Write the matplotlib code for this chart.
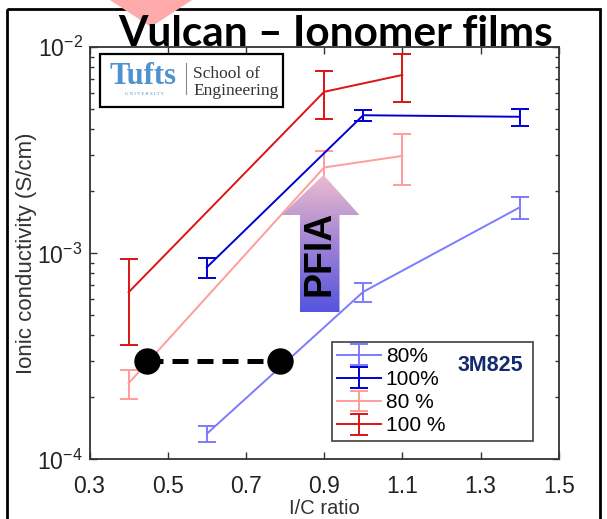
import numpy as np
import matplotlib
matplotlib.use("Agg")
import matplotlib.pyplot as plt
from matplotlib.patches import Polygon, Rectangle
from matplotlib.ticker import FixedLocator, FuncFormatter, LogLocator, NullFormatter

plt.rcParams['font.family'] = ['Liberation Sans', 'DejaVu Sans']
plt.rcParams['mathtext.fontset'] = 'custom'
plt.rcParams['mathtext.rm'] = 'Liberation Sans'
plt.rcParams['mathtext.it'] = 'Liberation Sans'
plt.rcParams['mathtext.default'] = 'regular'

# --- data: ionic conductivity (S/cm) vs I/C ratio ---
ic_3m = [0.6, 1.0, 1.4]
sig_3m_80 = [1.33e-4, 6.5e-4, 1.67e-3]
err_3m_80 = [0.12e-4, 0.7e-4, 0.21e-3]
sig_3m_100 = [8.55e-4, 4.68e-3, 4.6e-3]
err_3m_100 = [0.97e-4, 0.27e-3, 0.43e-3]

ic_pf = [0.4, 0.9, 1.1]
sig_pf_80 = [2.34e-4, 2.61e-3, 2.97e-3]
err_pf_80 = [0.37e-4, 0.54e-3, 0.82e-3]
sig_pf_100 = [6.47e-4, 6.08e-3, 7.34e-3]
err_pf_100 = [2.9e-4, 1.6e-3, 1.9e-3]

# equal-conductivity comparison markers
match_ic = [0.446, 0.787]
match_sig = [3.0e-4, 3.0e-4]

xticks = [0.3, 0.5, 0.7, 0.9, 1.1, 1.3, 1.5]
labels = ["80%", "100%", "80 %", "100 %"]
colors = ["#7b7bff", "#0000d2", "#ff9c9c", "#dc1414"]

W, H = 607, 519
fig = plt.figure(figsize=(W / 100, H / 100), dpi=100)
ax = fig.add_axes([89.5 / W, 1 - 459.3 / H, 469.2 / W, 412.0 / H])

series = [(ic_3m, sig_3m_80, err_3m_80), (ic_3m, sig_3m_100, err_3m_100),
          (ic_pf, sig_pf_80, err_pf_80), (ic_pf, sig_pf_100, err_pf_100)]
for (x, y, e), c, lab in zip(series, colors, labels):
    ax.errorbar(x, y, yerr=e, color=c, lw=1.4, elinewidth=1.4, capsize=6.5,
                capthick=1.4, label=lab)

ax.set_yscale('log')
ax.set_xlim(0.3, 1.5)
ax.set_ylim(1e-4, 1e-2)
ax.xaxis.set_major_locator(FixedLocator(xticks))
ax.set_xticklabels([f"{t:.1f}" for t in xticks])
ax.yaxis.set_major_locator(LogLocator(base=10, numticks=5))
ax.yaxis.set_major_formatter(FuncFormatter(lambda v, p: r"$10^{%d}$" % round(np.log10(v))))
ax.yaxis.set_minor_locator(LogLocator(base=10, subs=np.arange(2, 10), numticks=10))
ax.yaxis.set_minor_formatter(NullFormatter())
ax.tick_params(which='both', direction='in', top=True, right=True, width=1, color='#333333')
ax.tick_params(axis='x', which='major', length=5, pad=11, labelsize=16.5, labelcolor='#222222')
ax.tick_params(axis='y', which='major', length=5, pad=5, labelsize=16.5, labelcolor='#222222')
ax.tick_params(which='minor', length=3)
for s in ax.spines.values():
    s.set_linewidth(1.3)
    s.set_color('#333333')
ax.set_xlabel("I/C ratio", fontsize=14.5, labelpad=1, color='#333333')
ax.set_ylabel("Ionic conductivity (S/cm)", fontsize=16, labelpad=0, color='#333333')

leg = ax.legend(loc='upper left', bbox_to_anchor=(0.516, 0.044, 0.43, 0.2414), mode='expand',
                fontsize=15, frameon=True, fancybox=False, borderpad=0.25,
                labelspacing=0.2, handlelength=2.1, handletextpad=0.25, borderaxespad=0)
leg.get_frame().set_edgecolor('#222222')
leg.get_frame().set_linewidth(1.3)
ax.text(0.925, 0.228, "3M825", transform=ax.transAxes, ha='right', va='center',
        fontsize=15.5, fontweight='bold', color='#142a6e', zorder=10)

# comparison markers joined by a dashed line
ax.plot(match_ic, match_sig, color='black', lw=3.6, ls=(0, (3.2, 1.8)), marker='o',
        markersize=18, zorder=6)

# --- overlay in pixel units for the decorations ---
ov = fig.add_axes([0, 0, 1, 1], zorder=5)
ov.set_xlim(0, W)
ov.set_ylim(H, 0)
ov.axis('off')
ov.patch.set_alpha(0)

ov.add_patch(Rectangle((6.5, 8.5), 593, 520, fill=False, ec='black', lw=2))
ov.add_patch(Polygon([(110, 0), (192, 0), (151, 27)], closed=True, fc='#ffaaaa', ec='none'))
ov.text(336, 46, "Vulcan \u2013 Ionomer films", fontsize=30.5, fontweight='bold',
        family='Lato', ha='center', va='baseline', color='black')

# Tufts logo
ov.add_patch(Rectangle((100, 53.5), 183, 53.5, fc='white', ec='black', lw=1.6))
ov.text(143.5, 84.5, "Tufts", family='Liberation Serif', fontweight='bold', fontsize=22,
        color='#4f92d0', ha='center', va='baseline')
ov.text(144.5, 94, "U N I V E R S I T Y", family='Liberation Serif', fontsize=3.4,
        color='#4f92d0', ha='center', va='center')
ov.plot([186, 186], [63, 94], color='#888888', lw=0.8)
ov.text(193, 78, "School of", family='Liberation Serif', fontsize=12.5, color='#333333',
        va='baseline')
ov.text(193, 95, "Engineering", family='Liberation Serif', fontsize=12.5, color='#333333',
        va='baseline')

# PFIA arrow with a vertical gradient fill
arrow = Polygon([(323.5, 175), (359.5, 215), (339.5, 215), (339.5, 312), (300, 312),
                 (300, 215), (281.5, 215)], closed=True, fc='none', ec='none')
ov.add_patch(arrow)
top = np.array([236, 188, 206]) / 255
mid = np.array([160, 132, 212]) / 255
bot = np.array([84, 84, 222]) / 255
t = np.linspace(0, 1, 200)[:, None]
grad = np.where(t < 0.5, top + (mid - top) * (t / 0.5), mid + (bot - mid) * ((t - 0.5) / 0.5))
img = ov.imshow(grad[:, None, :], extent=(281.5, 359.5, 312, 175), aspect='auto',
                interpolation='bilinear')
img.set_clip_path(arrow)
ov.text(320, 253, "PFIA", rotation=90, fontsize=27, fontweight='bold', ha='center',
        va='center', color='black')
ov.set_xlim(0, W)
ov.set_ylim(H, 0)

fig.savefig("out.png", dpi=100)
